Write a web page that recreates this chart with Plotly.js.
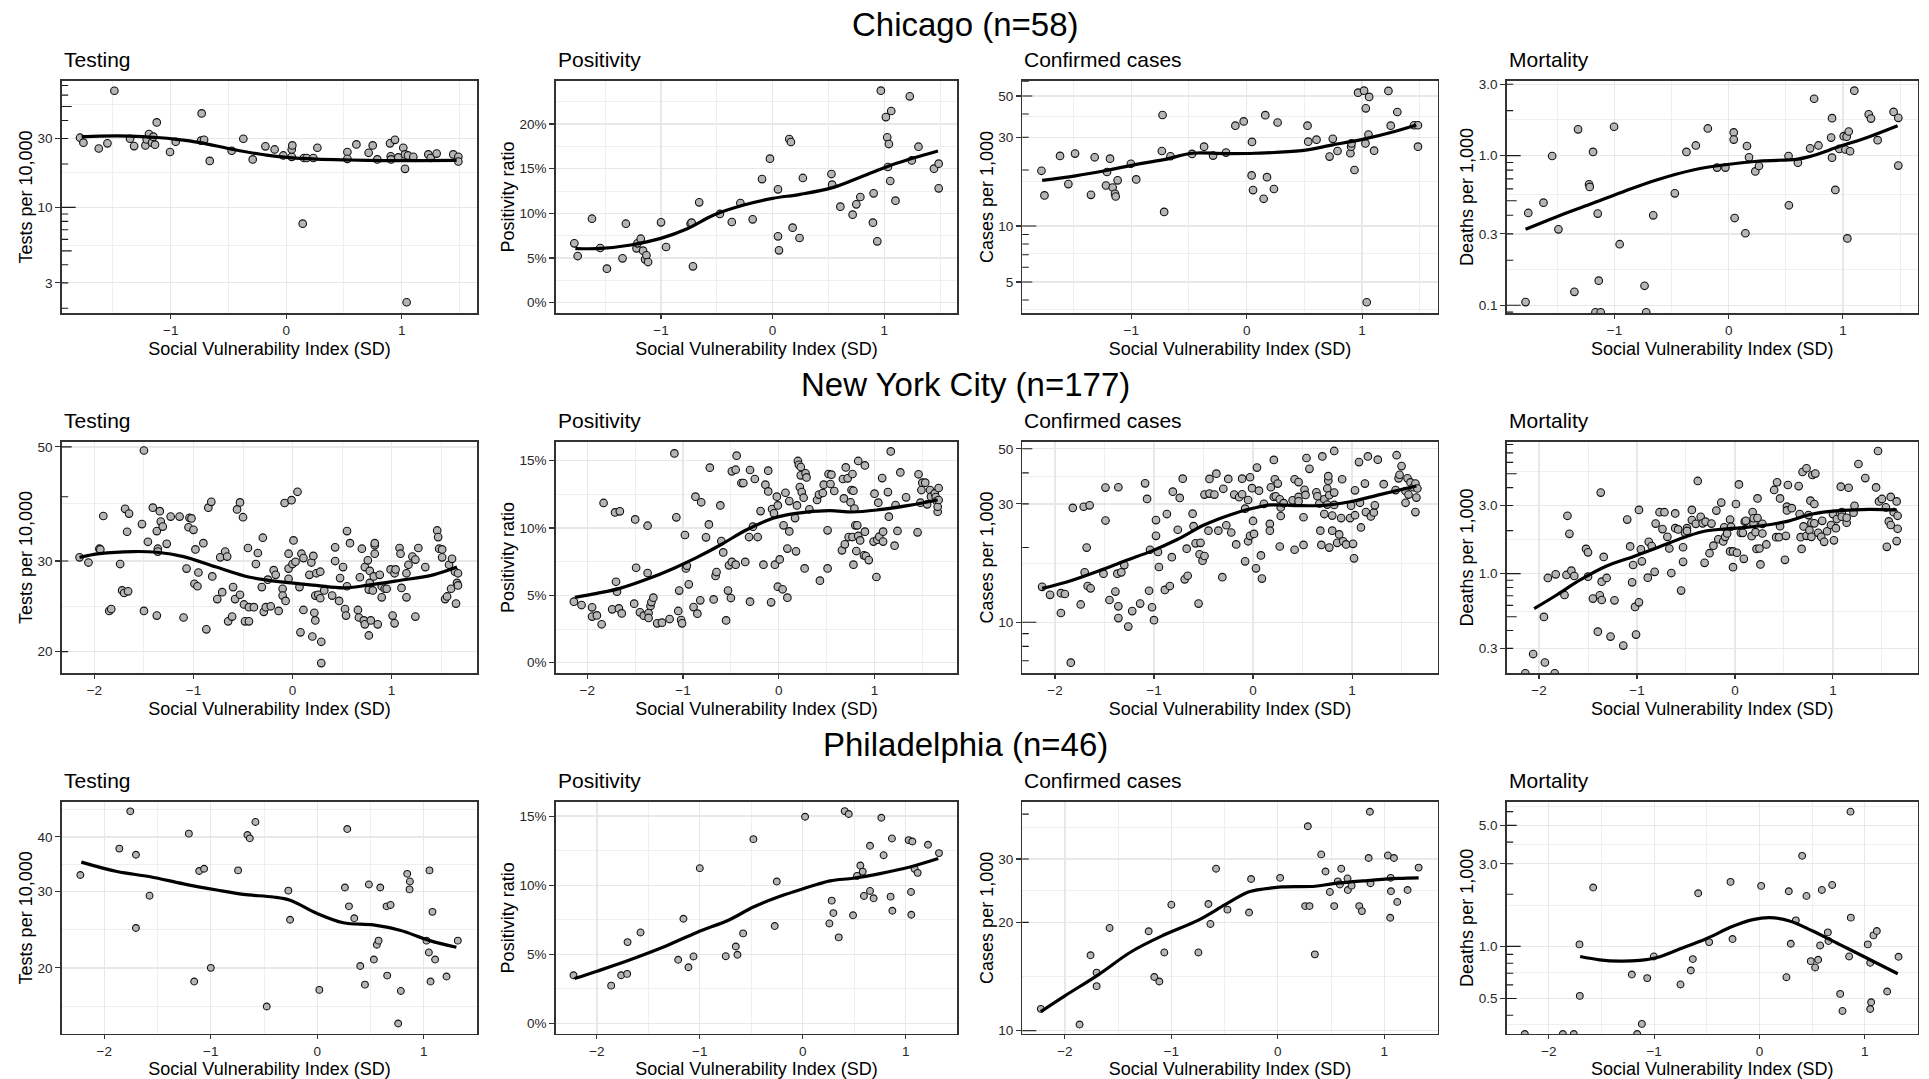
<!DOCTYPE html>
<html><head><meta charset="utf-8">
<script src="https://cdn.plot.ly/plotly-3.0.1.min.js"></script>
<style>html,body{margin:0;padding:0;background:#fff;}#chart{width:1929px;height:1079px;}</style>
</head><body><div id="chart"></div>
<script>
// ---------------- DATA ----------------
const cities = ['Chicago (n=58)', 'New York City (n=177)', 'Philadelphia (n=46)'];
const metrics = ['Testing', 'Positivity', 'Confirmed cases', 'Mortality'];
const yTitles = ['Tests per 10,000', 'Positivity ratio', 'Cases per 1,000', 'Deaths per 1,000'];
const xTitle = 'Social Vulnerability Index (SD)';

// Chicago
const chiTestX = [-1.785,-1.756,-1.623,-1.548,-1.488,-1.352,-1.317,-1.219,-1.208,-1.188,-1.162,-1.150,-1.136,-1.121,-1.006,-0.957,-0.732,-0.737,-0.711,-0.662,-0.472,-0.371,-0.290,-0.180,-0.100,-0.025,0.048,0.048,0.053,0.143,0.154,0.177,0.235,0.270,0.530,0.530,0.608,0.714,0.749,0.789,0.899,0.905,0.908,0.942,0.971,1.014,1.029,1.029,1.043,1.055,1.101,1.231,1.251,1.303,1.447,1.491,1.491];
const chiTestY = [30.4,28.1,25.6,27.8,64.3,29.9,26.6,26.9,29.6,32.2,28.1,30.9,27.2,38.8,24.2,28.5,44.8,29.0,29.4,21.0,24.7,29.9,21.5,26.5,25.2,22.9,22.4,25.2,26.9,7.71,22.0,22.0,22.0,25.9,24.2,21.7,27.3,23.9,26.9,21.5,27.8,22.6,21.5,29.4,22.2,25.9,18.5,23.3,2.20,22.9,22.4,23.3,22.0,23.6,23.3,22.4,20.8];
const chiTestFitX = [-1.771,-1.612,-1.352,-1.121,-0.948,-0.746,-0.457,-0.169,0.004,0.264,0.553,0.841,1.130,1.476];
const chiTestFitY = [30.9,31.2,31.2,30.5,29.6,28.1,25.2,23.0,22.2,21.6,21.3,21.1,21.1,21.2];

const chiPosX = [-1.777,-1.747,-1.619,-1.545,-1.485,-1.345,-1.315,-1.220,-1.211,-1.182,-1.161,-1.143,-1.131,-1.116,-1.000,-0.955,-0.735,-0.726,-0.714,-0.658,-0.473,-0.366,-0.289,-0.179,-0.095,-0.024,0.048,0.048,0.057,0.149,0.164,0.179,0.241,0.271,0.527,0.533,0.607,0.717,0.750,0.786,0.899,0.905,0.938,0.970,1.015,1.027,1.033,1.042,1.054,1.063,1.101,1.229,1.247,1.307,1.446,1.488,1.488];
const chiPosY = [6.64,5.22,9.40,6.12,3.81,4.96,8.84,6.08,6.64,7.16,5.82,4.85,5.30,4.55,8.99,6.23,8.84,8.96,4.07,11.23,9.93,9.03,11.16,9.33,13.84,16.12,12.69,7.43,5.86,18.32,17.99,8.40,7.24,13.96,14.40,13.21,10.75,9.85,11.01,11.83,8.96,12.24,6.87,23.73,20.78,18.51,15.19,17.76,13.62,21.46,11.42,23.10,15.93,17.46,15.00,15.56,12.80];
const chiPosFitX = [-1.768,-1.539,-1.271,-1.003,-0.765,-0.527,-0.259,0,0.247,0.545,0.812,1.110,1.482];
const chiPosFitY = [6.04,6.08,6.46,7.20,8.28,9.81,10.93,11.68,12.13,12.91,14.18,15.60,16.98];

const chiCaseX = [-1.778,-1.752,-1.617,-1.545,-1.487,-1.349,-1.317,-1.219,-1.210,-1.184,-1.161,-1.141,-1.135,-1.118,-1.003,-0.957,-0.735,-0.729,-0.715,-0.660,-0.473,-0.369,-0.291,-0.179,-0.098,-0.026,0.046,0.043,0.055,0.147,0.161,0.176,0.236,0.268,0.527,0.533,0.605,0.718,0.746,0.787,0.899,0.905,0.908,0.934,0.965,1.017,1.032,1.029,1.055,1.061,1.040,1.104,1.228,1.248,1.305,1.450,1.484,1.484];
const chiCaseY = [19.8,14.6,23.8,16.8,24.5,14.7,23.4,16.5,19.5,23.0,16.1,14.9,14.4,17.6,21.6,17.8,25.3,39.5,11.9,23.7,24.4,26.7,23.9,24.8,34.6,36.5,28.3,18.7,15.6,14.0,39.4,18.3,15.8,36.0,34.6,28.4,29.1,23.6,29.4,25.3,24.6,26.7,27.8,20.0,52.1,53.4,42.9,27.8,31.0,49.4,3.89,25.4,53.2,34.6,41.0,34.8,34.8,26.7];
const chiCaseFitX = [-1.772,-1.484,-1.196,-0.908,-0.706,-0.476,-0.187,0.072,0.476,0.735,1.023,1.282,1.470];
const chiCaseFitY = [17.6,18.6,20.0,21.7,22.8,24.6,24.5,24.6,25.4,27.2,29.4,32.2,34.9];

const chiMortX = [-1.779,-1.755,-1.622,-1.546,-1.491,-1.351,-1.319,-1.223,-1.217,-1.188,-1.147,-1.138,-1.167,-1.121,-1.004,-0.955,-0.737,-0.722,-0.661,-0.472,-0.370,-0.288,-0.183,-0.102,-0.029,0.044,0.044,0.052,0.146,0.160,0.178,0.233,0.265,0.524,0.527,0.606,0.713,0.748,0.786,0.897,0.905,0.905,0.934,0.969,1.007,1.022,1.033,1.039,1.051,1.063,1.100,1.226,1.246,1.304,1.444,1.485,1.485];
const chiMortY = [0.105,0.414,0.485,0.995,0.322,0.123,1.50,0.643,0.618,1.06,0.410,0.146,0.0898,0.0898,1.56,0.256,0.135,0.0898,0.399,0.560,1.06,1.17,1.52,0.832,0.832,1.43,1.28,0.383,0.303,1.16,0.975,0.785,0.853,0.995,0.466,0.898,1.12,2.40,1.17,1.32,1.78,0.970,0.590,1.11,1.35,1.10,1.34,0.280,1.45,1.07,2.72,1.89,1.77,1.27,1.96,1.79,0.858];
const chiMortFitX = [-1.779,-1.505,-1.214,-0.923,-0.632,-0.312,-0.049,0.271,0.591,0.707,0.969,1.231,1.479];
const chiMortFitY = [0.322,0.391,0.473,0.575,0.688,0.802,0.866,0.921,0.945,0.985,1.15,1.34,1.585];

// New York City
const nycTestX = [-2.15,-2.06,-1.95,-1.94,-1.91,-1.85,-1.83,-1.74,-1.72,-1.70,-1.66,-1.69,-1.67,-1.65,-1.52,-1.50,-1.50,-1.46,-1.41,-1.37,-1.37,-1.36,-1.36,-1.34,-1.33,-1.31,-1.27,-1.23,-1.14,-1.10,-1.07,-1.05,-1.04,-1.02,-1.00,-0.99,-0.98,-0.96,-0.95,-0.90,-0.87,-0.85,-0.82,-0.81,-0.76,-0.73,-0.71,-0.68,-0.66,-0.65,-0.61,-0.60,-0.58,-0.56,-0.53,-0.53,-0.50,-0.49,-0.48,-0.45,-0.44,-0.44,-0.39,-0.37,-0.35,-0.31,-0.30,-0.29,-0.27,-0.25,-0.22,-0.19,-0.17,-0.14,-0.10,-0.10,-0.08,-0.07,-0.04,-0.04,-0.04,-0.01,0.00,0.01,0.03,0.05,0.07,0.08,0.09,0.11,0.11,0.17,0.19,0.20,0.21,0.22,0.23,0.23,0.24,0.26,0.28,0.28,0.29,0.29,0.32,0.40,0.43,0.43,0.47,0.48,0.51,0.53,0.54,0.55,0.55,0.58,0.66,0.67,0.68,0.70,0.72,0.73,0.73,0.76,0.77,0.77,0.78,0.78,0.79,0.81,0.82,0.83,0.83,0.83,0.86,0.88,0.90,0.90,0.93,0.95,0.99,1.01,1.03,1.03,1.04,1.08,1.09,1.10,1.15,1.15,1.17,1.21,1.24,1.24,1.27,1.34,1.46,1.47,1.48,1.51,1.51,1.54,1.56,1.58,1.60,1.61,1.64,1.65,1.66,1.67,1.67];
const nycTestY = [30.5,29.8,31.7,31.6,36.7,24.0,24.2,29.6,26.3,26.0,26.2,37.9,34.2,37.1,35.4,24.0,49.2,32.7,38.1,23.5,34.3,31.7,31.3,37.5,35.8,35.0,32.4,36.6,36.6,23.3,29.0,34.9,36.4,36.3,34.5,27.1,31.6,26.8,28.5,32.5,22.1,38.1,39.1,28.0,25.3,30.5,26.1,31.3,30.6,22.9,23.4,26.7,25.3,37.8,39.0,25.8,36.5,24.7,22.9,31.8,24.4,22.9,24.4,29.6,31.1,26.7,33.3,23.9,24.4,27.6,24.5,28.8,28.2,24.0,26.5,25.7,38.9,25.1,31.0,29.0,27.7,39.4,29.6,32.9,29.9,40.9,26.7,21.8,31.0,30.4,24.1,28.2,29.8,21.4,30.7,23.8,25.7,23.0,28.4,25.8,28.6,25.4,20.9,19.0,26.3,25.7,31.9,30.0,25.1,27.8,29.2,24.2,23.5,34.3,26.8,32.5,24.1,23.3,27.9,31.7,23.0,29.2,22.6,30.1,26.4,21.5,28.7,27.2,23.0,26.3,28.0,32.2,31.0,32.5,22.6,28.2,25.5,26.8,26.5,26.5,28.9,23.5,22.7,28.4,28.9,31.8,31.0,26.6,28.4,25.5,29.5,30.6,23.4,30.2,31.8,29.2,34.4,33.4,31.7,30.5,31.6,25.3,25.6,29.5,26.5,30.3,28.6,24.8,27.2,26.9,28.4];
const nycTestFitX = [-2.15,-1.95,-1.61,-1.37,-1.10,-0.77,-0.43,-0.09,0.24,0.51,0.75,1.08,1.42,1.66];
const nycTestFitY = [30.5,31.0,31.3,31.2,30.6,29.2,27.9,27.3,26.9,26.6,26.9,27.5,28.2,29.2];

const nycPosX = [-2.14,-2.06,-1.95,-1.95,-1.90,-1.85,-1.83,-1.74,-1.71,-1.70,-1.69,-1.67,-1.66,-1.64,-1.51,-1.50,-1.49,-1.45,-1.41,-1.37,-1.37,-1.36,-1.36,-1.34,-1.33,-1.31,-1.27,-1.22,-1.14,-1.09,-1.07,-1.05,-1.04,-1.02,-1.01,-0.98,-0.97,-0.96,-0.94,-0.89,-0.87,-0.85,-0.82,-0.81,-0.76,-0.73,-0.72,-0.68,-0.66,-0.65,-0.61,-0.60,-0.58,-0.55,-0.53,-0.52,-0.50,-0.49,-0.49,-0.45,-0.45,-0.44,-0.39,-0.37,-0.35,-0.31,-0.30,-0.30,-0.27,-0.25,-0.22,-0.19,-0.16,-0.14,-0.11,-0.11,-0.08,-0.07,-0.05,-0.04,-0.02,-0.01,-0.01,0.01,0.04,0.05,0.07,0.09,0.09,0.11,0.11,0.17,0.18,0.19,0.20,0.21,0.22,0.23,0.23,0.24,0.26,0.27,0.28,0.29,0.32,0.40,0.42,0.43,0.46,0.47,0.51,0.51,0.52,0.54,0.55,0.58,0.66,0.68,0.69,0.70,0.67,0.72,0.73,0.75,0.76,0.77,0.77,0.78,0.78,0.79,0.80,0.81,0.82,0.83,0.83,0.85,0.89,0.90,0.91,0.90,0.94,0.99,1.00,1.02,1.03,1.04,1.05,1.08,1.09,1.09,1.14,1.15,1.17,1.21,1.22,1.24,1.27,1.33,1.45,1.46,1.48,1.49,1.50,1.53,1.55,1.58,1.59,1.63,1.64,1.65,1.66,1.66,1.67,1.67];
const nycPosY = [4.53,4.28,4.11,3.42,3.51,2.85,11.86,3.96,11.16,6.01,5.27,4.03,11.24,3.66,4.38,10.64,7.05,3.74,3.49,6.66,10.17,3.69,3.32,4.21,4.50,4.83,2.92,2.97,3.24,15.54,10.79,3.84,5.35,3.17,2.92,9.48,7.00,7.20,5.82,4.13,12.33,3.64,4.63,11.91,9.31,10.27,14.48,4.70,6.44,6.73,11.68,9.03,8.19,3.14,5.35,7.23,4.80,14.21,7.48,14.33,7.28,15.37,13.34,13.34,7.48,9.33,4.53,14.31,10.10,13.64,9.33,11.26,7.28,13.22,14.26,12.72,4.48,11.41,11.09,7.28,12.33,11.68,5.64,7.67,5.45,10.20,12.62,8.47,4.83,12.00,9.75,10.74,8.27,11.68,14.98,14.70,13.04,14.53,13.91,12.67,12.25,7.00,14.06,13.76,11.39,12.08,12.48,6.09,12.60,13.22,9.83,7.00,14.01,13.27,13.96,12.75,8.34,12.20,8.79,14.50,13.64,13.69,9.33,11.91,12.82,14.01,9.33,12.77,7.28,11.44,10.20,8.29,10.20,14.98,9.41,9.08,7.97,14.65,7.92,9.73,7.62,8.99,12.55,6.36,9.13,11.88,9.36,13.71,9.73,8.99,12.67,10.84,15.69,8.69,11.71,9.78,14.13,12.28,9.68,13.99,11.88,12.82,13.37,13.37,11.76,12.82,12.33,12.57,12.30,12.00,11.21,11.58,12.97,12.08];
const nycPosFitX = [-2.13,-1.90,-1.66,-1.38,-1.10,-0.86,-0.61,-0.34,-0.06,0.18,0.53,0.77,1.05,1.36,1.66];
const nycPosFitY = [4.85,5.15,5.52,6.19,7.00,7.80,8.74,9.85,10.72,11.09,11.29,11.19,11.36,11.68,12.08];

const nycCaseX = [-2.13,-2.05,-1.94,-1.90,-1.94,-1.84,-1.82,-1.74,-1.71,-1.70,-1.68,-1.67,-1.65,-1.64,-1.51,-1.49,-1.49,-1.45,-1.39,-1.37,-1.36,-1.36,-1.36,-1.33,-1.30,-1.26,-1.22,-1.14,-1.09,-1.07,-1.05,-1.02,-1.00,-0.98,-0.98,-1.04,-0.96,-0.95,-0.89,-0.84,-0.87,-0.82,-0.81,-0.76,-0.74,-0.71,-0.69,-0.67,-0.66,-0.61,-0.60,-0.58,-0.55,-0.54,-0.53,-0.51,-0.49,-0.49,-0.45,-0.44,-0.44,-0.39,-0.37,-0.35,-0.31,-0.30,-0.27,-0.25,-0.22,-0.19,-0.17,-0.14,-0.11,-0.11,-0.08,-0.08,-0.05,-0.05,-0.03,-0.03,-0.01,0.00,0.01,0.03,0.04,0.06,0.08,0.09,0.11,0.17,0.17,0.18,0.21,0.21,0.22,0.23,0.25,0.27,0.27,0.28,0.28,0.31,0.40,0.42,0.42,0.46,0.46,0.46,0.51,0.51,0.52,0.53,0.54,0.57,0.64,0.65,0.67,0.68,0.69,0.70,0.72,0.72,0.75,0.75,0.76,0.76,0.77,0.77,0.80,0.80,0.82,0.82,0.82,0.85,0.87,0.89,0.90,0.91,0.94,0.98,0.99,1.01,1.02,1.03,1.03,1.07,1.08,1.09,1.13,1.14,1.16,1.19,1.22,1.23,1.26,1.32,1.44,1.45,1.47,1.48,1.50,1.54,1.54,1.56,1.57,1.59,1.62,1.64,1.64,1.65,1.66];
const nycCaseY = [13.9,12.9,13.1,13.0,10.9,6.88,28.9,11.8,29.2,15.9,20.0,14.0,29.6,13.7,15.7,34.9,25.7,12.3,13.3,15.7,35.0,11.6,10.4,15.9,17.0,9.61,11.1,11.9,36.3,31.4,13.4,11.5,10.2,25.8,22.3,19.6,19.2,16.7,13.5,14.0,27.3,18.3,33.6,23.6,31.7,37.9,14.9,19.8,15.4,27.4,24.4,20.8,11.9,18.8,20.9,17.7,18.5,32.7,23.4,37.8,33.0,32.7,39.7,23.4,15.2,34.5,24.6,37.8,23.0,32.7,20.6,31.9,32.8,37.9,17.6,28.7,31.1,21.2,38.4,22.3,34.7,25.6,22.7,16.5,42.0,33.9,18.6,15.0,30.0,24.9,23.4,35.0,45.1,32.0,37.7,32.2,36.2,31.3,20.2,26.8,29.0,30.2,31.0,19.6,37.7,32.0,30.7,36.7,26.5,20.5,34.2,32.6,45.9,41.5,33.4,32.2,30.1,23.4,20.5,46.6,27.3,31.3,34.6,29.8,37.2,38.8,20.0,32.5,26.9,23.4,33.3,29.7,49.0,20.9,22.6,26.3,37.7,21.2,20.6,26.3,29.5,20.7,18.1,27.0,34.0,44.2,30.3,24.1,36.2,27.8,46.6,26.7,27.7,29.6,45.2,36.0,34.1,47.1,38.0,39.3,42.6,33.8,30.3,38.0,32.7,36.6,35.0,36.2,27.8,31.8,34.6];
const nycCaseFitX = [-2.13,-1.89,-1.56,-1.29,-1.02,-0.76,-0.49,-0.22,0,0.18,0.45,0.72,0.98,1.28,1.65];
const nycCaseFitY = [13.7,14.5,16.1,17.7,19.4,21.6,24.7,27.2,28.8,29.7,29.5,29.6,30.6,32.7,35.4];

const nycMortX = [-2.14,-2.06,-1.94,-1.95,-1.91,-1.84,-1.83,-1.74,-1.72,-1.71,-1.69,-1.67,-1.64,-1.52,-1.50,-1.50,-1.45,-1.40,-1.38,-1.37,-1.36,-1.36,-1.34,-1.31,-1.27,-1.23,-1.14,-1.10,-1.07,-1.05,-1.04,-1.02,-1.01,-0.98,-0.98,-0.96,-0.95,-0.89,-0.88,-0.85,-0.82,-0.81,-0.77,-0.74,-0.72,-0.69,-0.67,-0.65,-0.61,-0.61,-0.58,-0.55,-0.53,-0.53,-0.51,-0.49,-0.49,-0.44,-0.44,-0.40,-0.38,-0.35,-0.33,-0.31,-0.30,-0.26,-0.24,-0.22,-0.19,-0.17,-0.14,-0.12,-0.11,-0.10,-0.08,-0.05,-0.05,-0.04,-0.02,-0.02,0.01,0.02,0.04,0.06,0.08,0.09,0.10,0.11,0.17,0.18,0.19,0.19,0.21,0.22,0.23,0.23,0.25,0.26,0.28,0.28,0.32,0.40,0.43,0.42,0.45,0.46,0.46,0.51,0.52,0.53,0.54,0.53,0.58,0.65,0.66,0.67,0.68,0.69,0.70,0.73,0.73,0.77,0.75,0.76,0.78,0.78,0.79,0.81,0.82,0.81,0.85,0.88,0.89,0.91,0.94,0.98,1.00,1.01,1.03,1.04,1.08,1.09,1.09,1.14,1.14,1.16,1.21,1.22,1.26,1.33,1.44,1.46,1.47,1.50,1.55,1.54,1.57,1.59,1.59,1.62,1.65,1.65,1.66,1.66];
const nycMortY = [0.201,0.274,0.239,0.498,0.933,0.201,0.989,0.709,0.979,2.54,1.90,1.05,0.963,1.49,1.41,0.953,0.669,0.393,0.705,3.69,0.654,0.879,1.31,0.933,0.363,0.651,0.314,2.39,1.55,0.870,1.15,0.585,0.375,0.630,2.79,1.48,1.22,0.938,1.67,1.56,1.03,2.24,2.69,2.05,2.69,1.81,1.50,1.01,2.64,2.08,2.04,0.761,1.53,1.21,1.93,2.08,1.99,2.79,2.37,2.23,4.45,2.50,2.25,1.19,2.31,1.39,2.24,1.57,2.76,1.74,3.14,1.68,2.11,1.81,1.91,2.39,1.43,2.13,1.11,1.43,3.07,1.40,4.21,1.93,1.93,1.27,2.31,2.34,1.83,2.70,2.23,2.44,1.95,1.49,3.36,2.45,1.50,1.16,2.23,1.91,1.60,3.85,4.35,1.80,1.80,3.36,2.15,1.25,1.84,2.94,4.17,2.77,2.87,4.10,2.61,1.80,1.49,5.14,2.14,5.46,1.84,3.24,2.57,2.01,2.27,1.81,4.90,3.07,5.01,2.25,1.93,1.81,2.34,1.67,1.98,2.19,2.61,1.71,2.08,2.41,4.06,2.70,2.50,2.27,2.46,3.99,2.67,2.98,5.85,4.66,4.01,7.21,3.20,3.33,1.54,2.91,2.32,2.19,3.44,2.69,1.69,3.20,2.54,2.06];
const nycMortFitX = [-2.05,-1.82,-1.58,-1.31,-1.04,-0.77,-0.50,-0.30,-0.02,0.25,0.52,0.79,1.06,1.37,1.65];
const nycMortFitY = [0.569,0.709,0.903,1.131,1.315,1.545,1.814,1.988,2.075,2.154,2.311,2.614,2.757,2.818,2.787];

// Philadelphia
const phlTestX = [-2.225,-1.859,-1.756,-1.703,-1.703,-1.575,-1.206,-1.156,-1.109,-1.063,-1.000,-0.744,-0.656,-0.634,-0.581,-0.475,-0.272,-0.256,0.019,0.259,0.281,0.297,0.347,0.403,0.447,0.484,0.531,0.559,0.575,0.591,0.650,0.656,0.688,0.784,0.759,0.844,0.869,0.866,1.025,1.047,1.053,1.063,1.081,1.106,1.213,1.319];
const phlTestY = [32.7,37.6,45.8,36.4,24.7,29.3,40.7,18.6,33.4,33.8,20.0,33.5,40.4,39.7,43.3,16.3,30.1,25.8,17.8,30.6,41.7,27.7,26.0,20.2,18.3,31.1,20.9,22.6,23.1,30.6,27.7,19.2,27.9,17.7,14.9,32.9,31.6,30.3,23.1,21.7,33.5,18.6,26.9,20.9,19.1,23.1];
const phlTestFitX = [-2.216,-1.881,-1.569,-1.256,-0.944,-0.694,-0.413,-0.256,-0.006,0.244,0.525,0.775,1.056,1.306];
const phlTestFitY = [35.0,33.3,32.4,31.2,30.2,29.5,29.1,28.6,26.7,25.4,25.1,24.4,23.1,22.3];

const phlPosX = [-2.227,-1.861,-1.764,-1.706,-1.702,-1.576,-1.210,-1.159,-1.110,-1.061,-1.000,-0.748,-0.650,-0.634,-0.579,-0.479,-0.272,-0.252,0.023,0.259,0.282,0.298,0.350,0.408,0.447,0.489,0.528,0.560,0.583,0.595,0.654,0.654,0.689,0.764,0.786,0.854,0.867,0.871,1.029,1.052,1.055,1.065,1.087,1.117,1.217,1.324];
const phlPosY = [3.48,2.73,3.48,3.58,5.88,6.58,4.60,7.57,4.06,4.84,11.23,4.86,5.56,4.96,6.51,13.33,7.04,10.26,14.95,7.23,8.88,7.98,6.22,15.36,15.15,7.82,10.67,11.42,10.98,9.22,12.85,9.58,9.05,14.88,12.17,9.17,13.38,8.15,13.26,9.51,7.86,13.16,11.18,10.89,12.92,12.32];
const phlPosFitX = [-2.217,-2.0,-1.676,-1.353,-1.029,-0.706,-0.479,-0.220,0,0.265,0.492,0.751,1.042,1.317];
const phlPosFitY = [3.24,3.77,4.60,5.52,6.58,7.52,8.42,9.19,9.73,10.31,10.50,10.84,11.32,11.93];

const phlCaseX = [-2.226,-1.862,-1.759,-1.702,-1.702,-1.580,-1.213,-1.160,-1.113,-1.066,-1.000,-0.746,-0.652,-0.633,-0.580,-0.473,-0.270,-0.251,0.022,0.257,0.298,0.282,0.348,0.408,0.448,0.489,0.530,0.564,0.583,0.596,0.655,0.658,0.693,0.765,0.790,0.853,0.865,0.871,1.034,1.060,1.063,1.056,1.091,1.122,1.219,1.323];
const phlCaseY = [11.5,10.4,16.2,14.5,13.3,19.3,18.9,14.1,13.7,16.5,22.4,16.5,22.5,19.8,28.2,21.7,21.3,26.4,26.6,22.2,22.2,37.0,16.3,30.9,27.7,24.3,22.2,26.0,25.5,28.2,26.5,24.6,25.3,22.2,21.5,30.2,40.6,25.7,30.7,26.6,24.4,20.6,30.2,22.8,24.6,28.4];
const phlCaseFitX = [-2.226,-2.0,-1.687,-1.373,-1.060,-0.746,-0.495,-0.276,-0.119,0.038,0.351,0.508,0.821,1.135,1.323];
const phlCaseFitY = [11.3,12.5,14.3,16.6,18.5,20.3,22.4,24.3,24.8,25.1,25.2,25.6,26.1,26.5,26.6];

const phlMortX = [-2.228,-1.867,-1.763,-1.709,-1.706,-1.579,-1.212,-1.161,-1.117,-1.066,-1.003,-0.750,-0.652,-0.633,-0.582,-0.478,-0.275,-0.256,0.016,0.256,0.278,0.297,0.345,0.405,0.446,0.487,0.528,0.557,0.576,0.592,0.649,0.655,0.690,0.766,0.788,0.851,0.867,0.864,1.028,1.051,1.060,1.051,1.082,1.114,1.212,1.320];
const phlMortY = [0.312,0.312,0.312,1.027,0.518,2.187,0.688,0.312,0.357,0.656,0.875,0.603,0.726,0.845,2.027,1.059,2.358,1.103,2.236,0.664,2.082,1.036,1.414,3.335,1.957,0.822,0.756,0.837,1.013,2.119,1.205,1.074,2.265,0.532,0.424,0.875,1.466,6.00,1.027,0.804,0.476,0.435,1.158,1.227,0.549,0.871];
const phlMortFitX = [-1.703,-1.519,-1.329,-1.139,-0.981,-0.759,-0.506,-0.253,-0.063,0.095,0.285,0.506,0.759,1.013,1.313];
const phlMortFitY = [0.875,0.837,0.822,0.830,0.860,0.965,1.108,1.306,1.427,1.466,1.402,1.227,1.027,0.860,0.695];

// Axis breaks / labels
const chiTestTicks = [3,10,30],        chiTestLabels = ['3','10','30'];
const chiPosTicks = [0,5,10,15,20],    chiPosLabels = ['0%','5%','10%','15%','20%'];
const chiCaseTicks = [5,10,30,50],     chiCaseLabels = ['5','10','30','50'];
const chiMortTicks = [0.1,0.3,1,3],    chiMortLabels = ['0.1','0.3','1.0','3.0'];
const nycTestTicks = [20,30,50],       nycTestLabels = ['20','30','50'];
const nycPosTicks = [0,5,10,15],       nycPosLabels = ['0%','5%','10%','15%'];
const nycCaseTicks = [10,30,50],       nycCaseLabels = ['10','30','50'];
const nycMortTicks = [0.3,1,3],        nycMortLabels = ['0.3','1.0','3.0'];
const phlTestTicks = [20,30,40],       phlTestLabels = ['20','30','40'];
const phlPosTicks = [0,5,10,15],       phlPosLabels = ['0%','5%','10%','15%'];
const phlCaseTicks = [10,20,30],       phlCaseLabels = ['10','20','30'];
const phlMortTicks = [0.5,1,3,5],      phlMortLabels = ['0.5','1.0','3.0','5.0'];

// ---------------- LAYOUT / STYLE ----------------
const W = 1929, H = 1079;
const colPx = [[61.7,477.3],[555.7,957.3],[1022.3,1437.7],[1506.7,1917.7]];
const rowPx = [[80.7,313.3],[441.7,673.3],[801.7,1034]];
const xRanges = [[-1.944,1.655],[-2.33,1.865],[-2.40,1.502]];
const FONT = 'Liberation Sans, Arial, Helvetica, sans-serif';

const panels = [
  {x:chiTestX,y:chiTestY,fx:chiTestFitX,fy:chiTestFitY,log:true,yr:[0.266,1.878],t:chiTestTicks,l:chiTestLabels,lt:true},
  {x:chiPosX,y:chiPosY,fx:chiPosFitX,fy:chiPosFitY,log:false,yr:[-1.19,24.85],t:chiPosTicks,l:chiPosLabels},
  {x:chiCaseX,y:chiCaseY,fx:chiCaseFitX,fy:chiCaseFitY,log:true,yr:[0.5305,1.781],t:chiCaseTicks,l:chiCaseLabels,lt:true},
  {x:chiMortX,y:chiMortY,fx:chiMortFitX,fy:chiMortFitY,log:true,yr:[-1.0535,0.501],t:chiMortTicks,l:chiMortLabels,lt:true},
  {x:nycTestX,y:nycTestY,fx:nycTestFitX,fy:nycTestFitY,log:true,yr:[1.2589,1.7091],t:nycTestTicks,l:nycTestLabels,lt:true},
  {x:nycPosX,y:nycPosY,fx:nycPosFitX,fy:nycPosFitY,log:false,yr:[-0.79,16.41],t:nycPosTicks,l:nycPosLabels},
  {x:nycCaseX,y:nycCaseY,fx:nycCaseFitX,fy:nycCaseFitY,log:true,yr:[0.7946,1.7275],t:nycCaseTicks,l:nycCaseLabels,lt:true},
  {x:nycMortX,y:nycMortY,fx:nycMortFitX,fy:nycMortFitY,log:true,yr:[-0.697,0.923],t:nycMortTicks,l:nycMortLabels,lt:true},
  {x:phlTestX,y:phlTestY,fx:phlTestFitX,fy:phlTestFitY,log:true,yr:[1.149,1.683],t:phlTestTicks,l:phlTestLabels,lt:false},
  {x:phlPosX,y:phlPosY,fx:phlPosFitX,fy:phlPosFitY,log:false,yr:[-0.77,16.04],t:phlPosTicks,l:phlPosLabels},
  {x:phlCaseX,y:phlCaseY,fx:phlCaseFitX,fy:phlCaseFitY,log:true,yr:[0.9908,1.6365],t:phlCaseTicks,l:phlCaseLabels,lt:true},
  {x:phlMortX,y:phlMortY,fx:phlMortFitX,fy:phlMortFitY,log:true,yr:[-0.5058,0.8357],t:phlMortTicks,l:phlMortLabels,lt:true}
];

function logMinor(ticks, r) {
  const L = ticks.map(Math.log10), out = [];
  for (let i = 0; i < L.length - 1; i++) out.push((L[i] + L[i+1]) / 2);
  if (L.length > 1) {
    out.unshift(L[0] - (L[1] - L[0]) / 2);
    out.push(L[L.length-1] + (L[L.length-1] - L[L.length-2]) / 2);
  }
  return out.filter(v => v > r[0] && v < r[1]).map(v => Math.pow(10, v));
}

const data = [], shapes = [], annotations = [];
const layout = {
  width: W, height: H, autosize: false,
  margin: {l:0, r:0, t:0, b:0, pad:0},
  paper_bgcolor: '#fff', plot_bgcolor: '#fff',
  showlegend: false,
  font: {family: FONT, color: '#000'}
};

const gridCol = '#e8e8e8', minorCol = '#efefef', borderCol = '#333333';

panels.forEach((p, i) => {
  const n = i + 1, row = Math.floor(i / 4), col = i % 4;
  const xa = 'x' + n, ya = 'y' + n;
  const xk = 'xaxis' + n, yk = 'yaxis' + n;
  const cp = colPx[col], rp = rowPx[row];
  const msize = row === 2 ? 6.8 : 7.6;

  data.push({type:'scatter', mode:'markers', x:p.x, y:p.y, xaxis:xa, yaxis:ya,
    marker:{size:msize, color:'#b5b5b5', line:{color:'#111', width:1.1}}, hoverinfo:'skip', cliponaxis:true});
  data.push({type:'scatter', mode:'lines', x:p.fx, y:p.fy, xaxis:xa, yaxis:ya,
    line:{color:'#000', width:3.2, shape:'spline', smoothing:1}, hoverinfo:'skip'});

  layout[xk] = {
    domain:[cp[0]/W, cp[1]/W], anchor:ya, range:xRanges[row],
    tickmode:'linear', tick0:0, dtick:1,
    showgrid:true, gridcolor:gridCol, gridwidth:1.3, zeroline:false,
    showline:true, mirror:true, linecolor:borderCol, linewidth:1.4,
    ticks:'outside', ticklen:4, tickwidth:1.1, tickcolor:borderCol,
    tickfont:{size:13.5, color:'#262626', family:FONT},
    minor:{dtick:0.5, tick0:0, showgrid:true, gridcolor:minorCol, gridwidth:1, ticks:''},
    title:{text:xTitle, font:{size:18, color:'#000', family:FONT}, standoff:5}
  };
  const yax = {
    domain:[1 - rp[1]/H, 1 - rp[0]/H], anchor:xa,
    type: p.log ? 'log' : 'linear', range:p.yr,
    tickmode:'array', tickvals:p.t, ticktext:p.l,
    showgrid:true, gridcolor:gridCol, gridwidth:1.3, zeroline:false,
    showline:true, mirror:true, linecolor:borderCol, linewidth:1.4,
    ticks:'outside', ticklen:5, tickwidth:1.1, tickcolor:borderCol,
    tickfont:{size:13.5, color:'#262626', family:FONT},
    title:{text:yTitles[col], font:{size:18, color:'#000', family:FONT}, standoff:0}
  };
  if (p.log) {
    yax.minor = {tickmode:'array', tickvals:logMinor(p.t, p.yr), showgrid:true, gridcolor:minorCol, gridwidth:1, ticks:''};
  } else {
    yax.minor = {dtick:(p.t[1]-p.t[0])/2, tick0:0, showgrid:true, gridcolor:minorCol, gridwidth:1, ticks:''};
  }
  layout[yk] = yax;

  // log tick annotation marks along the left edge (inside the panel)
  if (p.log && p.lt) {
    const wpx = cp[1] - cp[0];
    for (let d = Math.floor(p.yr[0]) - 1; d <= Math.ceil(p.yr[1]); d++) {
      for (let k = 1; k <= 9; k++) {
        const v = k * Math.pow(10, d), lv = Math.log10(v);
        if (lv < p.yr[0] || lv > p.yr[1]) continue;
        const len = k === 1 ? 14 : (k === 5 ? 10 : 6.5);
        shapes.push({type:'line', xref:xa + ' domain', yref:ya, x0:0, x1:len/wpx, y0:v, y1:v,
          line:{color:'#1a1a1a', width:1.1}, layer:'above'});
      }
    }
  }

  // metric subtitle
  annotations.push({text:metrics[col], xref:'paper', yref:'paper', x:cp[0]/W, y:1 - (rp[0] - 21)/H,
    xanchor:'left', yanchor:'middle', showarrow:false, font:{size:21, color:'#000', family:FONT}});
});

// city headings
const cityMid = [24.5, 384.5, 744.5];
cities.forEach((c, r) => {
  annotations.push({text:c, xref:'paper', yref:'paper', x:965/W, y:1 - cityMid[r]/H,
    xanchor:'center', yanchor:'middle', showarrow:false, font:{size:33, color:'#000', family:FONT}});
});

layout.shapes = shapes;
layout.annotations = annotations;

Plotly.newPlot('chart', data, layout, {staticPlot:true, displayModeBar:false});
</script>
</body></html>
